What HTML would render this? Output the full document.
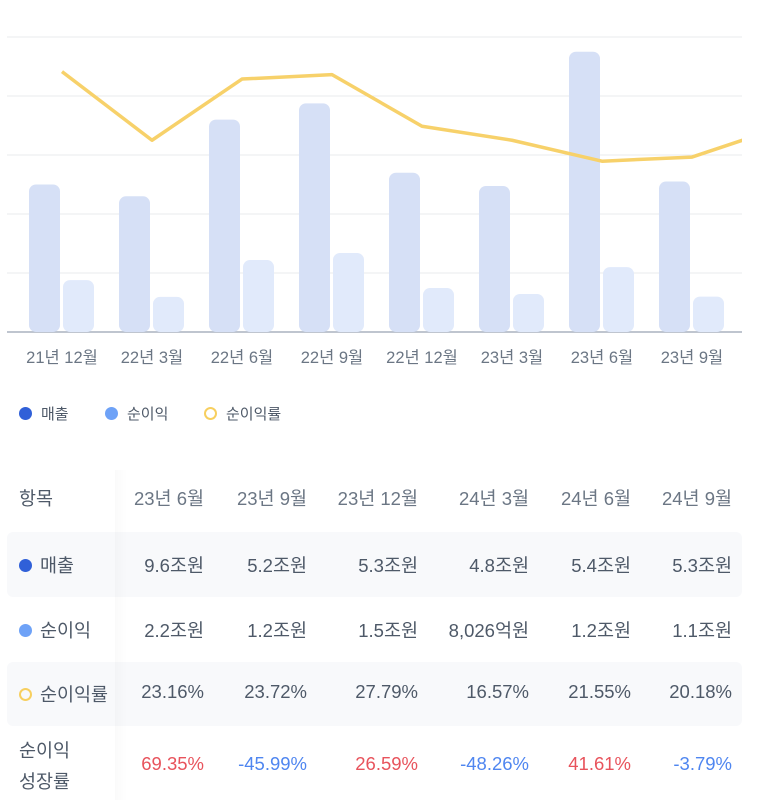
<!DOCTYPE html>
<html><head><meta charset="utf-8">
<style>
body{margin:0;background:#fff;width:773px;height:811px;overflow:hidden;font-family:"Liberation Sans","Noto Sans CJK KR",sans-serif;position:relative}
.t{position:absolute;font-size:18.5px;color:#4e5968;white-space:nowrap}
.band{position:absolute;left:7px;width:735px;background:#f8f9fb;border-radius:6px}
.leg{position:absolute;top:403px;font-size:15px;color:#4e5968;display:flex;align-items:center}
.dot{width:13px;height:13px;border-radius:50%;margin-right:9px;box-sizing:border-box}
</style></head><body>
<svg id="chart" width="773" height="380" style="position:absolute;left:0;top:0"></svg>
<div class="leg" style="left:19px"><div class="dot" style="background:#3060d8"></div>매출</div>
<div class="leg" style="left:105px"><div class="dot" style="background:#6ea2f7"></div>순이익</div>
<div class="leg" style="left:204px"><div class="dot" style="border:2px solid #f7cf5f"></div>순이익률</div>

<div class="band" style="top:532px;height:65px"></div>
<div class="band" style="top:662px;height:64px"></div>
<div style="position:absolute;left:115px;top:470px;width:12px;height:330px;background:linear-gradient(90deg,rgba(0,0,0,0.02),rgba(0,0,0,0))"></div>
<div id="table"></div>

<script>
const categories=["21년 12월","22년 3월","22년 6월","22년 9월","22년 12월","23년 3월","23년 6월","23년 9월"];
const revenue=[5.0,4.6,7.2,7.75,5.4,4.95,9.5,5.1];
const netIncome=[1.76,1.19,2.44,2.68,1.49,1.29,2.2,1.2];
const margin=[35.3,26.0,34.3,34.9,27.9,26.0,23.16,23.72,27.79];
const gridTicks=[0,2,4,6,8,10];

const svg=document.getElementById('chart');
const NS='http://www.w3.org/2000/svg';
const x0=62,step=90,base=332,top0=37;
const yRev=v=>base-v/10*(base-top0);
const yMar=v=>base-v/40*(base-top0);
const xC=i=>x0+i*step;
function mk(t,a){const e=document.createElementNS(NS,t);for(const k in a)e.setAttribute(k,a[k]);svg.appendChild(e);return e;}
gridTicks.forEach((g,i)=>{
 const l=mk('line',{x1:7,x2:742,y1:yRev(g),y2:yRev(g),stroke:g===0?'#aab2bf':'#e9ebee','stroke-width':g===0?1.5:1});
 
 
});
categories.forEach((c,i)=>{
 const cx=xC(i);
 const b1=mk('rect',{x:cx-33,y:yRev(revenue[i]),width:31,height:base-yRev(revenue[i]),rx:7,fill:'#d6e0f6'});
 
 
 const b2=mk('rect',{x:cx+1,y:yRev(netIncome[i]),width:31,height:base-yRev(netIncome[i]),rx:7,fill:'#e1eafb'});
 
 
 const t=mk('text',{x:cx,y:363,'text-anchor':'middle','font-size':16.5,fill:'#6b7684','font-family':'"Liberation Sans","Noto Sans CJK KR",sans-serif'});
 t.textContent=c;
 
 
});
const cpEl=mk('clipPath',{id:'cp'});
const cp=document.createElementNS(NS,'rect');cp.setAttribute('x',0);cp.setAttribute('y',0);cp.setAttribute('width',742);cp.setAttribute('height',340);cpEl.appendChild(cp);
const pts=margin.map((v,i)=>xC(i)+','+yMar(v)).join(' ');
const pl=mk('polyline',{points:pts,fill:'none',stroke:'#f7d16a','stroke-width':3.5,'clip-path':'url(#cp)','stroke-linejoin':'round'});



const cols=["23년 6월","23년 9월","23년 12월","24년 3월","24년 6월","24년 9월"];
const revRow=["9.6조원","5.2조원","5.3조원","4.8조원","5.4조원","5.3조원"];
const netRow=["2.2조원","1.2조원","1.5조원","8,026억원","1.2조원","1.1조원"];
const marRow=["23.16%","23.72%","27.79%","16.57%","21.55%","20.18%"];
const growRow=["69.35%","-45.99%","26.59%","-48.26%","41.61%","-3.79%"];
const colRight=[204,307,418,529,631,732];
const tb=document.getElementById('table');
function cell(txt,right,top,color,name){
 const d=document.createElement('div');d.className='t';d.textContent=txt;
 d.style.right=(773-right)+'px';d.style.top=top+'px';if(color)d.style.color=color;
 
 
 tb.appendChild(d);
}
cols.forEach((c,i)=>cell(c,colRight[i],485,'#6b7684','column-header'));
revRow.forEach((c,i)=>cell(c,colRight[i],552,null,'revenue-cell'));
netRow.forEach((c,i)=>cell(c,colRight[i],617,null,'net-income-cell'));
marRow.forEach((c,i)=>cell(c,colRight[i],681,null,'net-margin-cell'));
growRow.forEach((c,i)=>cell(c,colRight[i],753,c[0]==='-'?'#4f86f0':'#e8535c','growth-cell'));
function lab(html,top,name){const d=document.createElement('div');d.className='t';d.style.left='19px';d.style.top=top+'px';d.innerHTML=html;
 
 
 tb.appendChild(d);}
lab('항목',485,'header-item');
lab('<span style="display:inline-block;width:13px;height:13px;border-radius:50%;background:#3060d8;margin-right:8px;vertical-align:0px"></span>매출',552,'row-label-revenue');
lab('<span style="display:inline-block;width:13px;height:13px;border-radius:50%;background:#6ea2f7;margin-right:8px;vertical-align:0px"></span>순이익',617,'row-label-net-income');
lab('<span style="display:inline-block;width:13px;height:13px;border-radius:50%;border:2px solid #f7cf5f;box-sizing:border-box;margin-right:8px;vertical-align:0px"></span>순이익률',681,'row-label-net-margin');
lab('순이익<br>성장률',735,'row-label-growth');
tb.lastChild.style.lineHeight='31px';
</script>
</body></html>
